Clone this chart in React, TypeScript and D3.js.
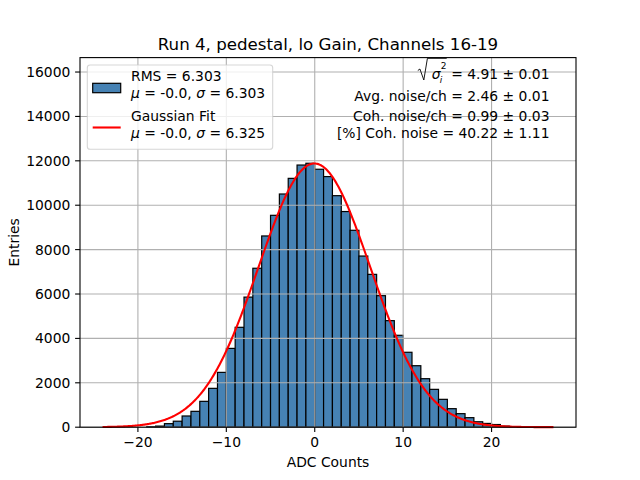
import React, { useEffect, useRef } from "react";
import * as d3 from "d3";

// histogram bins (left edge, width 1) and entries
const binLeft = [
	-19, -18, -17, -16, -15, -14, -13, -12, -11, -10, -9, -8, -7, -6, -5, -4, -3, -2, -1, 0,
	1, 2, 3, 4, 5, 6, 7, 8, 9, 10, 11, 12, 13, 14, 15, 16, 17, 18, 19, 20, 21,
];
const binCounts = [
	20, 50, 160, 270, 505, 715, 1165, 1750, 2470, 3550, 4500, 5860, 7160, 8615, 9545, 10505,
	11210, 11810, 11890, 11620, 11290, 10430, 9715, 8870, 7710, 6885, 5925, 4800, 4140, 3375,
	2770, 2185, 1705, 1255, 835, 610, 430, 245, 170, 120, 50,
];

const xTicks = [-20, -10, 0, 10, 20];
const yTicks = [0, 2000, 4000, 6000, 8000, 10000, 12000, 14000, 16000];

// gaussian fit parameters
const fitMu = -0.04;
const fitSigma = 6.325;
const fitAmp = 11880;
const fitFrom = -24;
const fitTo = 27;

const titleText = "Run 4, pedestal, lo Gain, Channels 16-19";
const statLines = [
	"Avg. noise/ch = 2.46 ± 0.01",
	"Coh. noise/ch = 0.99 ± 0.03",
	"[%] Coh. noise = 40.22 ± 1.11",
];

const FONT = "DejaVu Sans, sans-serif";
const FS = 13.89;

const App: React.FC = () => {
	const svgRef = useRef<SVGSVGElement>(null);

	useEffect(() => {
		if (!svgRef.current) return;
		const svg = d3.select(svgRef.current);
		svg.selectAll("*").remove();

		const left = 80,
			right = 576,
			top = 57.6,
			bottom = 427.2;

		const x = d3.scaleLinear().domain([-26.55, 29.55]).range([left, right]);
		const y = d3.scaleLinear().domain([0, 16650]).range([bottom, top]);

		const g = svg.append("g").attr("font-family", FONT);

		// bars
		g.append("g")
			.selectAll("rect")
			.data(binLeft)
			.join("rect")
			.attr("x", (d) => x(d))
			.attr("y", (d, i) => y(binCounts[i]))
			.attr("width", (d) => x(d + 1) - x(d))
			.attr("height", (d, i) => bottom - y(binCounts[i]))
			.attr("fill", "#4682b4")
			.attr("stroke", "#000")
			.attr("stroke-width", 1.2);

		// grid (above bars, below line)
		const grid = g.append("g").attr("stroke", "#b0b0b0").attr("stroke-width", 1.1);
		grid.selectAll("line.gx")
			.data(xTicks)
			.join("line")
			.attr("x1", (d) => x(d))
			.attr("x2", (d) => x(d))
			.attr("y1", top)
			.attr("y2", bottom);
		grid.selectAll("line.gy")
			.data(yTicks)
			.join("line")
			.attr("x1", left)
			.attr("x2", right)
			.attr("y1", (d) => y(d))
			.attr("y2", (d) => y(d));

		// gaussian fit
		const xs = d3.range(fitFrom, fitTo + 0.001, 0.1);
		const gauss = (v: number) => fitAmp * Math.exp(-((v - fitMu) ** 2) / (2 * fitSigma * fitSigma));
		const line = d3
			.line<number>()
			.x((d) => x(d))
			.y((d) => y(gauss(d)));
		g.append("path")
			.datum(xs)
			.attr("d", line)
			.attr("fill", "none")
			.attr("stroke", "red")
			.attr("stroke-width", 2.1);

		// spines
		g.append("rect")
			.attr("x", left)
			.attr("y", top)
			.attr("width", right - left)
			.attr("height", bottom - top)
			.attr("fill", "none")
			.attr("stroke", "#000")
			.attr("stroke-width", 1.1);

		// x axis
		const xt = g.append("g");
		xt.selectAll("line")
			.data(xTicks)
			.join("line")
			.attr("x1", (d) => x(d))
			.attr("x2", (d) => x(d))
			.attr("y1", bottom)
			.attr("y2", bottom + 4.9)
			.attr("stroke", "#000")
			.attr("stroke-width", 1.1);
		xt.selectAll("text")
			.data(xTicks)
			.join("text")
			.attr("x", (d) => x(d))
			.attr("y", 447)
			.attr("text-anchor", "middle")
			.attr("font-size", FS)
			.text((d) => (d < 0 ? "\u2212" + Math.abs(d) : String(d)));

		// y axis
		const yt = g.append("g");
		yt.selectAll("line")
			.data(yTicks)
			.join("line")
			.attr("x1", left - 4.9)
			.attr("x2", left)
			.attr("y1", (d) => y(d))
			.attr("y2", (d) => y(d))
			.attr("stroke", "#000")
			.attr("stroke-width", 1.1);
		yt.selectAll("text")
			.data(yTicks)
			.join("text")
			.attr("x", left - 9.7)
			.attr("y", (d) => y(d) + 5)
			.attr("text-anchor", "end")
			.attr("font-size", FS)
			.text((d) => String(d));

		// labels and title
		g.append("text")
			.attr("x", (left + right) / 2)
			.attr("y", 467)
			.attr("text-anchor", "middle")
			.attr("font-size", FS)
			.text("ADC Counts");
		g.append("text")
			.attr("transform", `translate(19.3,${(top + bottom) / 2}) rotate(-90)`)
			.attr("text-anchor", "middle")
			.attr("font-size", FS)
			.text("Entries");
		g.append("text")
			.attr("x", (left + right) / 2)
			.attr("y", 50.3)
			.attr("text-anchor", "middle")
			.attr("font-size", 16.67)
			.text(titleText);

		// legend
		const lg = g.append("g");
		lg.append("rect")
			.attr("x", 87.3)
			.attr("y", 65)
			.attr("width", 185.4)
			.attr("height", 84.3)
			.attr("rx", 2.8)
			.attr("fill", "#fff")
			.attr("fill-opacity", 0.8)
			.attr("stroke", "#cccccc")
			.attr("stroke-opacity", 0.8)
			.attr("stroke-width", 1.1);
		lg.append("rect")
			.attr("x", 92.7)
			.attr("y", 83.3)
			.attr("width", 28)
			.attr("height", 9.4)
			.attr("fill", "#4682b4")
			.attr("stroke", "#000")
			.attr("stroke-width", 1.2);
		lg.append("line")
			.attr("x1", 92.7)
			.attr("x2", 120.7)
			.attr("y1", 127.5)
			.attr("y2", 127.5)
			.attr("stroke", "red")
			.attr("stroke-width", 2.1);
		const muSigma = (yy: number, s: string) => {
			const t = lg.append("text").attr("x", 131).attr("y", yy).attr("font-size", FS);
			t.append("tspan").attr("font-style", "italic").text("\u03bc");
			t.append("tspan").text(" = -0.0, ");
			t.append("tspan").attr("font-style", "italic").text("\u03c3");
			t.append("tspan").text(` = ${s}`);
		};
		lg.append("text").attr("x", 131).attr("y", 81).attr("font-size", FS).text("RMS = 6.303");
		muSigma(98.3, "6.303");
		lg.append("text").attr("x", 131).attr("y", 121).attr("font-size", FS).text("Gaussian Fit");
		muSigma(138.3, "6.325");

		// stats text, right aligned
		const tx = 549.5;
		const eq = g
			.append("text")
			.attr("x", tx)
			.attr("y", 79)
			.attr("text-anchor", "end")
			.attr("font-size", FS)
			.text("= 4.91 ± 0.01");
		const eqLen = (eq.node() as SVGTextElement).getComputedTextLength();
		const x0 = tx - eqLen;
		g.append("text")
			.attr("x", x0 - 19.5)
			.attr("y", 79)
			.attr("font-size", FS)
			.attr("font-style", "italic")
			.text("\u03c3");
		g.append("text")
			.attr("x", x0 - 11.5)
			.attr("y", 82.5)
			.attr("font-size", 9)
			.attr("font-style", "italic")
			.text("i");
		g.append("text")
			.attr("x", x0 - 10.5)
			.attr("y", 68.5)
			.attr("font-size", 9)
			.text("2");
		g.append("path")
			.attr(
				"d",
				`M${x0 - 33.4},70.5 L${x0 - 31.3},69 L${x0 - 27.4},80 L${x0 - 23.8},58.3 L${x0 - 4.5},58.3`
			)
			.attr("fill", "none")
			.attr("stroke", "#000")
			.attr("stroke-width", 0.9);
		g.append("g")
			.selectAll("text")
			.data(statLines)
			.join("text")
			.attr("x", tx)
			.attr("y", (d, i) => [100.5, 120.7, 137.5][i])
			.attr("text-anchor", "end")
			.attr("font-size", FS)
			.text((d) => d);
	}, []);

	return (
		<svg
			ref={svgRef}
			width={640}
			height={480}
			style={{ position: "absolute", left: 0, top: 0, background: "#fff" }}
		/>
	);
};

export default App;
